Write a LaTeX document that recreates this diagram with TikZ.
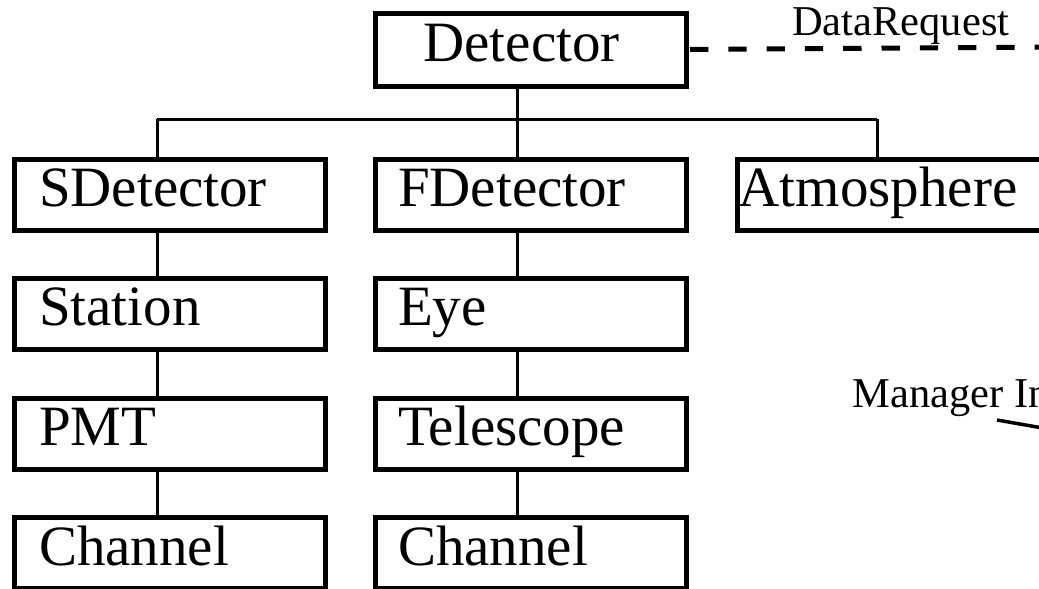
\documentclass[tikz,border=0pt]{standalone}
\usepackage{fontspec}
\setmainfont{Liberation Serif}
\tikzset{
  classbox/.style={draw, line width=5pt, anchor=north west,
    minimum height=71pt, text width=311pt, align=left,
    inner xsep=0pt, inner ysep=0pt, text height=32pt, text depth=8pt,
    font=\fontsize{57}{60}\selectfont},
  link/.style={line width=3pt},
  note/.style={inner sep=0pt, anchor=base west,
    font=\fontsize{42.5}{45}\selectfont},
}
\begin{document}
\begin{tikzpicture}[x=1pt,y=-1pt]
  \useasboundingbox (0,0) rectangle (1039,589);
  \clip (0,0) rectangle (1039,589);

  % top-level class
  \node[classbox, minimum height=73pt] (det) at (372.5,10.5) {\hspace*{48.5pt}Detector};

  % surface detector branch
  \node[classbox] (sdet) at (11.5,156.5) {\hspace*{25pt}SDetector};
  \node[classbox] (stat) at (11.5,275.5) {\hspace*{25pt}Station};
  \node[classbox] (pmt)  at (11.5,395.5) {\hspace*{25pt}PMT};
  \node[classbox] (chs)  at (11.5,515)   {\hspace*{25pt}Channel};

  % fluorescence detector branch
  \node[classbox] (fdet) at (372.5,156.5) {\hspace*{23pt}FDetector};
  \node[classbox] (eye)  at (372.5,275.5) {\hspace*{23pt}Eye};
  \node[classbox] (tel)  at (372.5,395.5) {\hspace*{23pt}Telescope};
  \node[classbox] (chf)  at (372.5,515)   {\hspace*{23pt}Channel};

  % atmosphere
  \node[classbox] (atm) at (734.5,156.5) {\hspace*{1.7pt}Atmosphere};

  % tree junctions
  \coordinate (t1) at (157,119);
  \coordinate (t2) at (517,119);
  \coordinate (t3) at (877,119);

  \draw[link] (det.south -| t2) -- (t2);
  \draw[link] (t1) -- (t3);
  \draw[link] (t1) -- (sdet.north -| t1);
  \draw[link] (t2) -- (fdet.north -| t2);
  \draw[link] (t3) -- (atm.north -| t3);

  \draw[link] (sdet.south -| t1) -- (stat.north -| t1);
  \draw[link] (stat.south -| t1) -- (pmt.north -| t1);
  \draw[link] (pmt.south -| t1) -- (chs.north -| t1);

  \draw[link] (fdet.south -| t2) -- (eye.north -| t2);
  \draw[link] (eye.south -| t2) -- (tel.north -| t2);
  \draw[link] (tel.south -| t2) -- (chf.north -| t2);

  % data request
  \coordinate (dr) at (1060,47);
  \draw[line width=5pt, dash pattern=on 18.3pt off 20pt, dash phase=-1.5pt] (det.east) -- (dr);
  \node[note] (drl) at (792,35) {DataRequest};

  % manager interface
  \node[note] (mgr) at (852.5,407) {Manager In};
  \coordinate (m1) at (997,420);
  \coordinate (m2) at (1070,432.8);
  \draw[line width=3.5pt] (m1) -- (m2);
\end{tikzpicture}
\end{document}
